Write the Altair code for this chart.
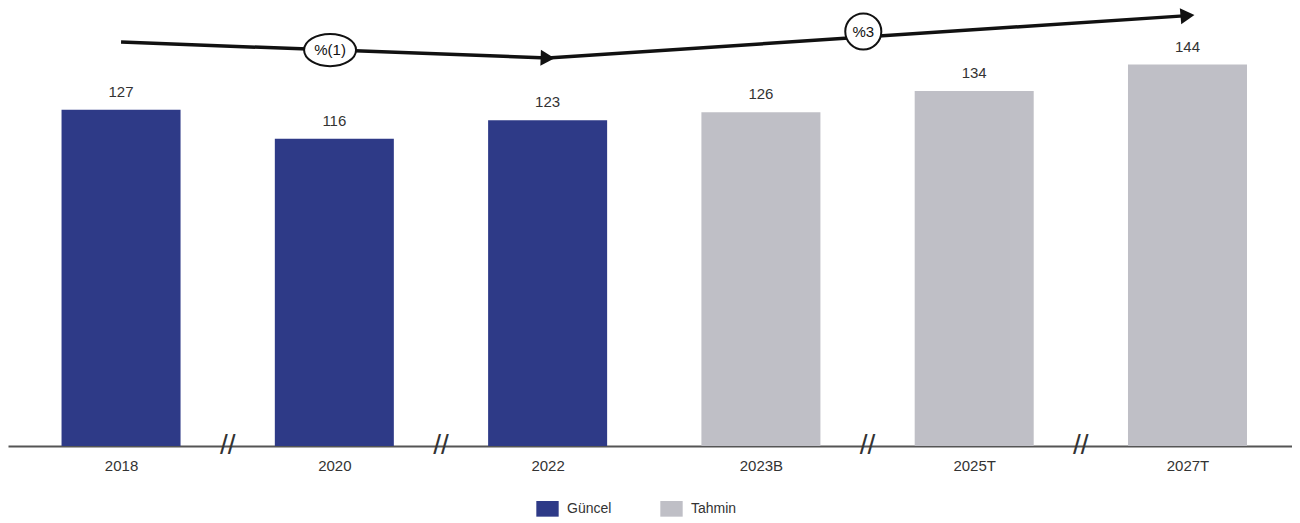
import altair as alt
import pandas as pd

# ---- data ----
categories = ["2018", "2020", "2022", "2023B", "2025T", "2027T"]
values = [127, 116, 123, 126, 134, 144]
series = ["Güncel", "Güncel", "Güncel", "Tahmin", "Tahmin", "Tahmin"]
positions = [0, 1, 2, 3, 4, 5]

break_positions = [0.5, 1.5, 3.5, 4.5]

arrow_x_start = [0, 2]
arrow_x_end = [2, 5]
arrow_y_start = [152.5, 146.5]
arrow_y_end = [146.5, 162.5]
arrow_angles = [2, 355]

cagr_labels = ["%(1)", "%3"]
cagr_x = [0.98, 3.48]
cagr_y = [149.5, 156.5]

BLUE = "#2e3a87"
GRAY = "#bfbfc6"
FONT = "Liberation Sans"
HALF = 0.279

bars = pd.DataFrame({
    "pos": positions,
    "x0": [p - HALF for p in positions],
    "x1": [p + HALF for p in positions],
    "value": values,
    "base": [0] * len(values),
    "series": series,
    "cat": categories,
})
breaks = pd.DataFrame({"pos": break_positions, "y": [0] * len(break_positions)})
arrows = pd.DataFrame({
    "xs": arrow_x_start, "xe": arrow_x_end,
    "ys": arrow_y_start, "ye": arrow_y_end, "ang": arrow_angles,
})
cagr = pd.DataFrame({"x": cagr_x, "y": cagr_y, "t": cagr_labels,
                     "shape": ["M-1,0A1,0.62,0,1,0,1,0A1,0.62,0,1,0,-1,0Z",
                               "circle"],
                     "size": [2700, 1300]})

label_expr = "[" + ",".join(f"'{c}'" for c in categories) + "][datum.value]"

xscale = alt.Scale(domain=[-0.53, 5.49], nice=False, zero=False)
yscale = alt.Scale(domain=[0, 165], nice=False, zero=True)

x_axis = alt.Axis(values=positions, labelExpr=label_expr, ticks=False, grid=False,
                  title=None, labelFontSize=15, labelColor="#333", labelFont=FONT,
                  labelPadding=12, domainColor="#555", domainWidth=2)

bar_layer = alt.Chart(bars).mark_bar().encode(
    x=alt.X("x0:Q", scale=xscale, axis=x_axis),
    x2="x1:Q",
    y=alt.Y("value:Q", scale=yscale, axis=None),
    y2="base:Q",
    color=alt.Color("series:N",
                    scale=alt.Scale(domain=["Güncel", "Tahmin"], range=[BLUE, GRAY]),
                    legend=alt.Legend(title=None, orient="none", direction="horizontal",
                                      legendX=528, legendY=488,
                                      symbolType="M-1,-0.7H1V0.7H-1Z", symbolSize=500,
                                      symbolStrokeWidth=0, symbolOpacity=1,
                                      labelFontSize=14, labelColor="#333", labelFont=FONT,
                                      columnPadding=48, labelOffset=8)),
)

text_layer = alt.Chart(bars).mark_text(dy=-10, baseline="bottom", fontSize=15,
                                       color="#333", font=FONT).encode(
    x=alt.X("pos:Q", scale=xscale),
    y=alt.Y("value:Q", scale=yscale),
    text="value:Q",
)

break_layer = alt.Chart(breaks).mark_text(text="//", fontSize=28, color="#333",
                                          font=FONT, baseline="middle").encode(
    x=alt.X("pos:Q", scale=xscale),
    y=alt.Y("y:Q", scale=yscale),
)

arrow_lines = alt.Chart(arrows).mark_rule(color="#111", strokeWidth=3.5).encode(
    x=alt.X("xs:Q", scale=xscale), x2="xe:Q",
    y=alt.Y("ys:Q", scale=yscale), y2="ye:Q",
)

arrow_heads = alt.Chart(arrows).mark_point(shape="triangle-right", filled=True,
                                           color="#111", size=260, opacity=1).encode(
    x=alt.X("xe:Q", scale=xscale),
    y=alt.Y("ye:Q", scale=yscale),
    angle=alt.Angle("ang:Q", scale=None),
)

cagr_shapes = alt.Chart(cagr).mark_point(filled=False, fill="white", fillOpacity=1,
                                         stroke="#111", strokeWidth=2, opacity=1).encode(
    x=alt.X("x:Q", scale=xscale),
    y=alt.Y("y:Q", scale=yscale),
    shape=alt.Shape("shape:N", scale=None),
    size=alt.Size("size:Q", scale=None),
)

cagr_text = alt.Chart(cagr).mark_text(fontSize=15, color="#111", font=FONT).encode(
    x=alt.X("x:Q", scale=xscale),
    y=alt.Y("y:Q", scale=yscale),
    text="t:N",
)

chart = alt.layer(bar_layer, text_layer, break_layer, arrow_lines, arrow_heads,
                  cagr_shapes, cagr_text).properties(
    width=1284, height=437, padding=0, background="white",
).configure_view(stroke=None)

chart.save("out.html", embed_options={"renderer": "svg", "actions": False})
